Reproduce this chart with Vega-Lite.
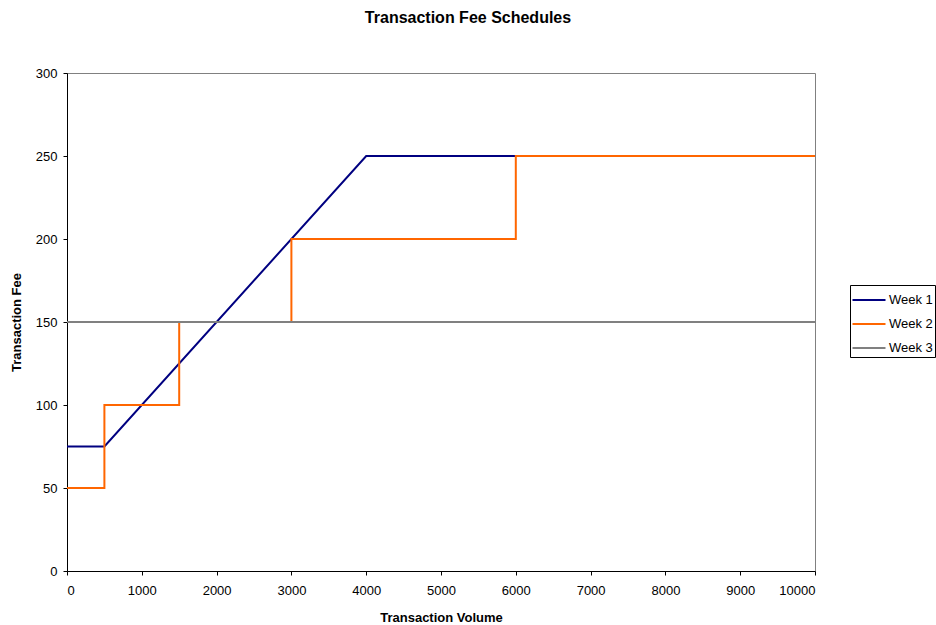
{
  "$schema": "https://vega.github.io/schema/vega-lite/v6.json",
  "autosize": "none",
  "width": 748,
  "height": 498,
  "padding": {"left": 67, "top": 73, "right": 121, "bottom": 54},
  "background": "white",
  "config": {
    "font": "Liberation Sans",
    "view": {"stroke": "#808080", "strokeWidth": 1}
  },
  "title": {
    "text": "Transaction Fee Schedules",
    "fontSize": 16,
    "fontWeight": "bold",
    "font": "Liberation Sans",
    "color": "black",
    "anchor": "middle",
    "dx": 27,
    "offset": 41
  },
  "data": {
    "values": [
      {"series": "Week 1", "i": 0, "volume": 0, "fee": 75},
      {"series": "Week 1", "i": 1, "volume": 500, "fee": 75},
      {"series": "Week 1", "i": 2, "volume": 4000, "fee": 250},
      {"series": "Week 1", "i": 3, "volume": 10000, "fee": 250},
      {"series": "Week 2", "i": 0, "volume": 0, "fee": 50},
      {"series": "Week 2", "i": 1, "volume": 500, "fee": 50},
      {"series": "Week 2", "i": 2, "volume": 500, "fee": 100},
      {"series": "Week 2", "i": 3, "volume": 1500, "fee": 100},
      {"series": "Week 2", "i": 4, "volume": 1500, "fee": 150},
      {"series": "Week 2", "i": 5, "volume": 3000, "fee": 150},
      {"series": "Week 2", "i": 6, "volume": 3000, "fee": 200},
      {"series": "Week 2", "i": 7, "volume": 6000, "fee": 200},
      {"series": "Week 2", "i": 8, "volume": 6000, "fee": 250},
      {"series": "Week 2", "i": 9, "volume": 10000, "fee": 250},
      {"series": "Week 3", "i": 0, "volume": 0, "fee": 150},
      {"series": "Week 3", "i": 1, "volume": 10000, "fee": 150}
    ]
  },
  "encoding": {
    "x": {
      "field": "volume",
      "type": "quantitative",
      "scale": {"domain": [0, 10000], "nice": false},
      "axis": {
        "title": "Transaction Volume",
        "values": [0, 1000, 2000, 3000, 4000, 5000, 6000, 7000, 8000, 9000, 10000],
        "format": "d",
        "grid": false,
        "domainColor": "black",
        "tickColor": "black",
        "tickSize": 4,
        "labelFontSize": 13,
        "labelColor": "black",
        "labelPadding": 9,
        "titleFontSize": 13,
        "titleFontWeight": "bold",
        "titleColor": "black",
        "titlePadding": 14,
        "labelFont": "Liberation Sans",
        "titleFont": "Liberation Sans"
      }
    },
    "y": {
      "field": "fee",
      "type": "quantitative",
      "scale": {"domain": [0, 300], "nice": false},
      "axis": {
        "title": "Transaction Fee",
        "values": [0, 50, 100, 150, 200, 250, 300],
        "grid": false,
        "domainColor": "black",
        "tickColor": "black",
        "tickSize": 4,
        "labelFontSize": 13,
        "labelColor": "black",
        "labelPadding": 6,
        "titleFontSize": 13,
        "titleFontWeight": "bold",
        "titleColor": "black",
        "titlePadding": 12,
        "labelFont": "Liberation Sans",
        "titleFont": "Liberation Sans"
      }
    },
    "color": {
      "field": "series",
      "type": "nominal",
      "scale": {"domain": ["Week 1", "Week 2", "Week 3"], "range": ["#000080", "#FF6600", "#808080"]},
      "legend": {
        "title": null,
        "orient": "none",
        "legendX": 783,
        "legendY": 212,
        "strokeColor": "black",
        "fillColor": "white",
        "padding": 2,
        "symbolType": "M-1.375,0H1.375",
        "symbolSize": 576,
        "symbolOffset": 4,
        "symbolStrokeWidth": 2,
        "labelOffset": 7,
        "labelFontSize": 13,
        "labelColor": "black",
        "labelFont": "Liberation Sans",
        "rowPadding": 4,
        "cornerRadius": 0
      }
    },
    "order": {"field": "i", "type": "quantitative"}
  },
  "layer": [
    {
      "transform": [{"filter": "datum.series == 'Week 1'"}],
      "mark": {"type": "line", "strokeWidth": 2, "clip": true}
    },
    {
      "transform": [{"filter": "datum.series == 'Week 2'"}],
      "mark": {"type": "line", "strokeWidth": 2, "clip": true}
    },
    {
      "transform": [{"filter": "datum.series == 'Week 3'"}],
      "mark": {"type": "line", "strokeWidth": 2, "clip": true}
    }
  ]
}
